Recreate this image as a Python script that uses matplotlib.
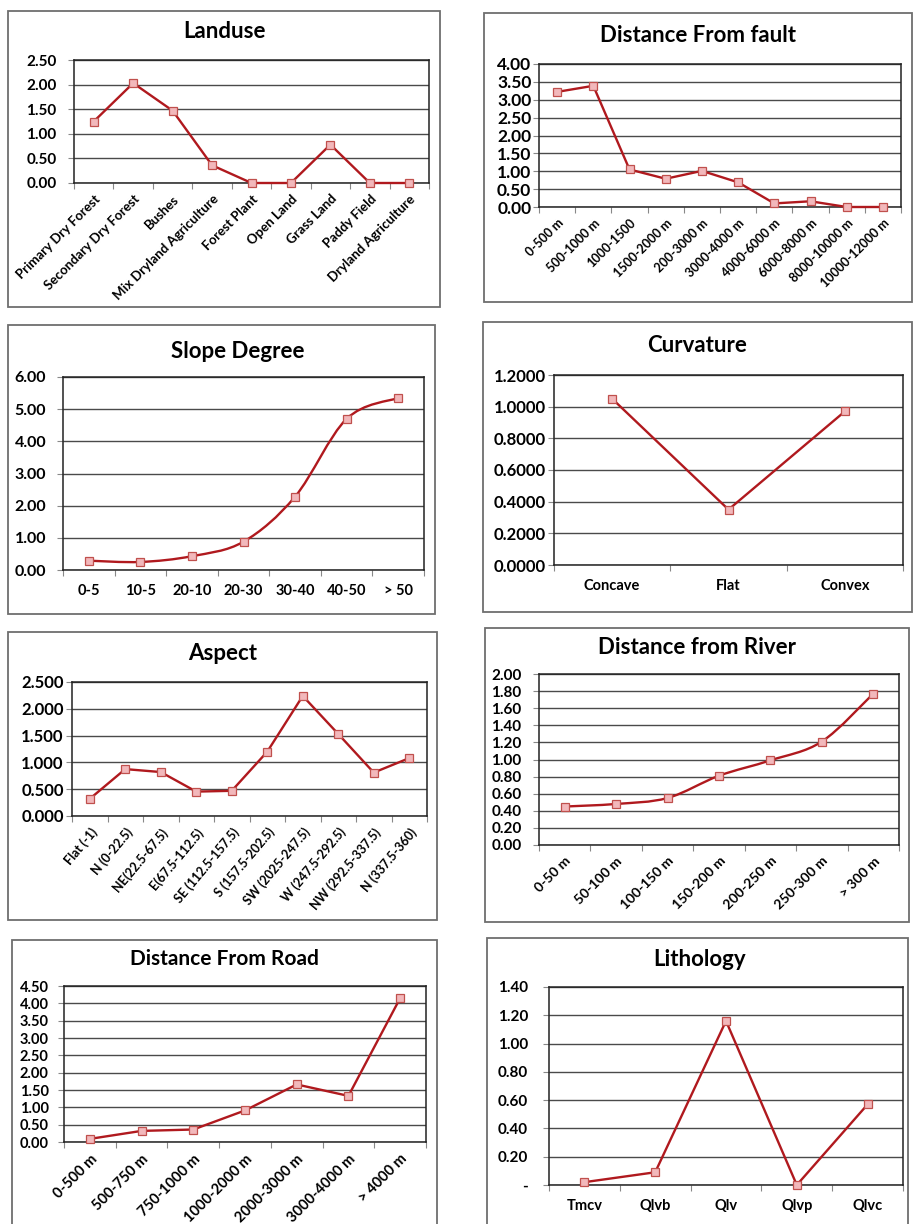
import numpy as np
import matplotlib
matplotlib.use("Agg")
import matplotlib.pyplot as plt
from matplotlib.patches import Rectangle, PathPatch
from matplotlib.path import Path
from matplotlib.ticker import FixedLocator, NullFormatter

plt.rcParams['font.family'] = ['Lato', 'DejaVu Sans']

# ---- data ----
landuse_cats = ["Primary Dry Forest", "Secondary Dry Forest", "Bushes",
                "Mix Dryland Agriculture", "Forest Plant", "Open Land",
                "Grass Land", "Paddy Field", "Dryland Agriculture"]
landuse_vals = [1.25, 2.03, 1.47, 0.36, 0.0, 0.0, 0.78, 0.0, 0.0]

fault_cats = ["0-500 m", "500-1000 m", "1000-1500", "1500-2000 m", "200-3000 m",
              "3000-4000 m", "4000-6000 m", "6000-8000 m", "8000-10000 m",
              "10000-12000 m"]
fault_vals = [3.22, 3.39, 1.05, 0.79, 1.01, 0.69, 0.10, 0.16, 0.0, 0.0]

slope_cats = ["0-5", "10-5", "20-10", "20-30", "30-40", "40-50", "> 50"]
slope_vals = [0.29, 0.25, 0.43, 0.88, 2.28, 4.70, 5.35]

curv_cats = ["Concave", "Flat", "Convex"]
curv_vals = [1.05, 0.35, 0.97]

aspect_cats = ["Flat (-1)", "N (0-22.5)", "NE(22.5-67.5)", "E(67.5-112.5)",
               "SE (112.5-157.5)", "S (157.5-202.5)", "SW (2025-247.5)",
               "W (247.5-292.5)", "NW (292.5-337.5)", "N (337.5-360)"]
aspect_vals = [0.32, 0.875, 0.82, 0.455, 0.47, 1.20, 2.24, 1.53, 0.81, 1.08]

river_cats = ["0-50 m", "50-100 m", "100-150 m", "150-200 m", "200-250 m",
              "250-300 m", "> 300 m"]
river_vals = [0.45, 0.48, 0.55, 0.81, 0.99, 1.21, 1.77]

road_cats = ["0-500 m", "500-750 m", "750-1000 m", "1000-2000 m", "2000-3000 m",
             "3000-4000 m", "> 4000 m"]
road_vals = [0.09, 0.32, 0.36, 0.91, 1.66, 1.33, 4.15]

litho_cats = ["Tmcv", "Qlvb", "Qlv", "Qlvp", "Qlvc"]
litho_vals = [0.02, 0.09, 1.16, 0.0, 0.57]

# ---- styling ----
W, H = 913, 1224
LINE = "#b0191e"
FACE = "#f2b8bb"
EDGE = "#c0504d"
GRID = "#4a4a4a"

fig = plt.figure(figsize=(W / 100, H / 100), dpi=100)


def fx(x):
    return x / W


def fy(y):
    return 1 - y / H


def smooth_path(xs, ys):
    """Cubic Bezier path through the points (spreadsheet-style smoothed line)."""
    pts = np.column_stack([xs, ys]).astype(float)
    n = len(pts)
    verts = [pts[0]]
    codes = [Path.MOVETO]
    for i in range(n - 1):
        p0 = pts[i - 1] if i > 0 else pts[i]
        p1 = pts[i]
        p2 = pts[i + 1]
        p3 = pts[i + 2] if i + 2 < n else pts[i + 1]
        c1 = p1 + (p2 - p0) / 6.0
        c2 = p2 - (p3 - p1) / 6.0
        verts += [c1, c2, p2]
        codes += [Path.CURVE4] * 3
    return Path(verts, codes)


def panel(box, rect, title, tpos, cats, vals, ylim, step, fmt,
          rot=0, xfs=9, yfs=11, tfs=16, ypad=4, smooth=False, zero_dash=False):
    bx0, by0, bx1, by1 = box
    fig.patches.append(Rectangle((fx(bx0), fy(by1)), fx(bx1 - bx0), (by1 - by0) / H,
                                 transform=fig.transFigure, fill=False,
                                 edgecolor="#6e6e6e", linewidth=1.3, zorder=0))
    x0, y0, x1, y1 = rect
    ax = fig.add_axes([fx(x0), fy(y1), fx(x1 - x0), (y1 - y0) / H])
    n = len(cats)
    x = np.arange(n)
    if smooth:
        ax.add_patch(PathPatch(smooth_path(x, vals), facecolor="none",
                               edgecolor=LINE, linewidth=1.7, zorder=3,
                               clip_on=False))
        ax.plot(x, vals, linestyle="none", marker="s", markersize=6,
                markerfacecolor=FACE, markeredgecolor=EDGE,
                markeredgewidth=0.9, zorder=4, clip_on=False)
    else:
        ax.plot(x, vals, color=LINE, linewidth=1.7, marker="s", markersize=6,
                markerfacecolor=FACE, markeredgecolor=EDGE,
                markeredgewidth=0.9, zorder=3, clip_on=False)
    ax.set_xlim(-0.5, n - 0.5)
    ax.set_ylim(*ylim)
    yt = np.round(np.arange(ylim[0], ylim[1] + step / 2, step), 6)
    ax.set_yticks(yt)
    labels = [fmt.format(v) for v in yt]
    if zero_dash:
        labels[0] = "-"
    ax.set_yticklabels(labels, fontsize=yfs, fontweight="bold")
    # boundary ticks on the category axis, labels at category centres
    ax.xaxis.set_major_locator(FixedLocator(np.arange(-0.5, n, 1.0)))
    ax.xaxis.set_major_formatter(NullFormatter())
    ax.xaxis.set_minor_locator(FixedLocator(x))
    if rot:
        ax.set_xticklabels(cats, minor=True, fontsize=xfs, fontweight="bold",
                           rotation=rot, ha="right", rotation_mode="anchor")
    else:
        ax.set_xticklabels(cats, minor=True, fontsize=xfs, fontweight="bold")
    ax.tick_params(axis="x", which="major", length=4, width=0.8,
                   color="#888888", direction="out")
    ax.tick_params(axis="x", which="minor", length=0,
                   pad=10 if not rot else 7)
    ax.tick_params(axis="y", length=4, width=0.8, color="#888888", pad=ypad)
    ax.grid(axis="y", color=GRID, linewidth=1.0, zorder=1)
    ax.set_axisbelow(True)
    for s in ax.spines.values():
        s.set_color("#222222")
        s.set_linewidth(1.1)
    fig.text(fx(tpos[0]), fy(tpos[1]), title, ha="center", va="center",
             fontsize=tfs, fontweight="bold")
    return ax


panel((8, 11, 440, 307), (74, 60, 429, 183), "Landuse", (224, 32),
      landuse_cats, landuse_vals, (0, 2.5), 0.5, "{:.2f}", rot=45, xfs=9.5,
      yfs=11, ypad=8.5)

panel((484, 13, 912, 302), (539, 64, 901, 207), "Distance From fault", (698, 35),
      fault_cats, fault_vals, (0, 4.0), 0.5, "{:.2f}", rot=45, xfs=9,
      yfs=12.5, ypad=1.5)

panel((8, 325, 435, 614), (63, 377, 424, 570), "Slope Degree", (238, 351),
      slope_cats, slope_vals, (0, 6.0), 1.0, "{:.2f}", xfs=10.5,
      yfs=11.5, ypad=8, smooth=True)

panel((483, 322, 912, 612), (554, 375, 903, 565), "Curvature", (697, 345),
      curv_cats, curv_vals, (0, 1.2), 0.2, "{:.4f}", xfs=10.5,
      yfs=12, ypad=2)

panel((8, 632, 437, 920), (72, 682, 427, 816), "Aspect", (223, 654),
      aspect_cats, aspect_vals, (0, 2.5), 0.5, "{:.3f}", rot=50, xfs=9,
      yfs=12, ypad=2)

panel((485, 628, 909, 922), (539, 674, 899, 845), "Distance from River", (697, 648),
      river_cats, river_vals, (0, 2.0), 0.2, "{:.2f}", rot=45, xfs=10,
      yfs=11, ypad=8.5, smooth=True)

panel((12, 940, 437, 1240), (64, 986, 426, 1142), "Distance From Road", (224, 959),
      road_cats, road_vals, (0, 4.5), 0.5, "{:.2f}", rot=45, xfs=10.5,
      yfs=10.5, ypad=7, tfs=15)

panel((487, 938, 908, 1240), (549, 987, 903, 1185), "Lithology", (700, 959),
      litho_cats, litho_vals, (0, 1.4), 0.2, "{:.2f}", xfs=10.5,
      yfs=11, ypad=11, zero_dash=True)

fig.savefig("out.png", dpi=100, facecolor="white")
